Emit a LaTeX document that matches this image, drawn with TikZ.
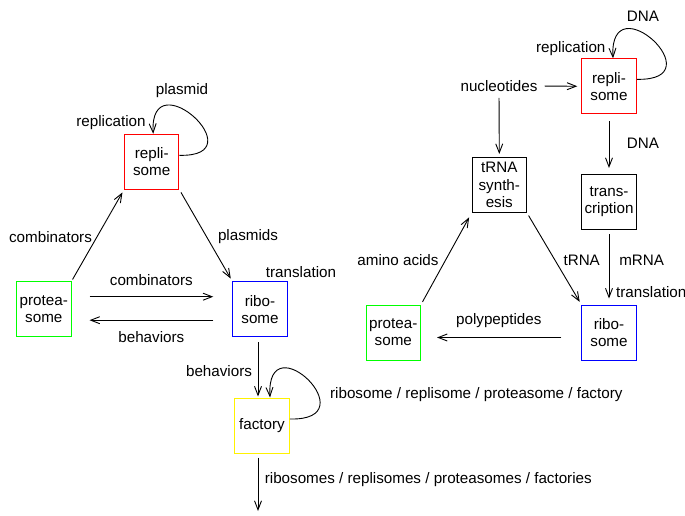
\documentclass[tikz,border=0pt]{standalone}
\usepackage{fontspec}
\setmainfont{Liberation Sans}
\usetikzlibrary{arrows.meta}
\begin{document}
\begin{tikzpicture}[x=1pt,y=1pt,
  box/.style={draw, line width=1pt, minimum width=54.5pt, minimum height=55pt, inner sep=0pt, align=center, font=\fontsize{15.2}{17.2}\selectfont},
  lbl/.style={inner sep=0pt, font=\fontsize{15.2}{17.2}\selectfont},
  arr/.style={line width=0.9pt, -{Straight Barb[length=9pt,width=7pt]}},
  selfloop/.style={arr}]
\useasboundingbox (0,0) rectangle (685,515);

% ---------- left diagram ----------
\node[box, draw=red] (rep1) at (151.7,353.2) {repli-\\some};
\node[box, draw=green] (prot1) at (43.8,205.8) {protea-\\some};
\node[box, draw=blue] (ribo1) at (260,205.8) {ribo-\\some};
\node[box, draw=yellow] (fact) at (262,89.5) {factory};
\coordinate (out1) at (258,4);

\draw[arr, shorten <=2pt, shorten >=3pt] (prot1.north east) -- (rep1.south west);
\draw[arr, shorten <=3pt, shorten >=3pt] (rep1.south east) -- (ribo1.north west);
\draw[arr, shorten <=18pt, shorten >=19pt] ([yshift=12.5pt]prot1.east) -- ([yshift=12.5pt]ribo1.west);
\draw[arr, shorten <=19pt, shorten >=18pt] ([yshift=-11pt]ribo1.west) -- ([yshift=-11pt]prot1.east);
\draw[arr, shorten <=5pt, shorten >=1pt] ([xshift=-2pt]ribo1.south) -- ([xshift=-4pt]fact.north);
\draw[arr, shorten <=4pt] ([xshift=-4pt]fact.south) -- (out1);

\draw[selfloop] ([yshift=6.5pt]rep1.east) .. controls +(78,-2) and +(-4,75) .. ([xshift=1.5pt]rep1.north);
\draw[selfloop] ([yshift=6.5pt]fact.east) .. controls +(80,-2) and +(-4,77) .. ([xshift=8pt]fact.north);

\node[lbl] (l1) at (182,424) {plasmid};
\node[lbl] (l2) at (111,392) {replication};
\node[lbl] (l3) at (50.5,278.3) {combinators};
\node[lbl] (l4) at (248,278.3) {plasmids};
\node[lbl] (l5) at (301,243) {translation};
\node[lbl] (l6) at (151.3,235) {combinators};
\node[lbl] (l7) at (151.3,178.3) {behaviors};
\node[lbl] (l8) at (219,144.3) {behaviors};
\node[lbl] (l9) at (476.3,120) {ribosome / replisome / proteasome / factory};
\node[lbl] (l10) at (428.3,35) {ribosomes / replisomes / proteasomes / factories};

% ---------- right diagram ----------
\node[box, draw=red] (rep2) at (609,428.7) {repli-\\some};
\node[lbl] (nucl) at (499,429) {nucleotides};
\node[box, draw=black] (trna) at (499.3,330) {tRNA\\synth-\\esis};
\node[box, draw=black] (trans) at (609,313) {trans-\\cription};
\node[box, draw=blue] (ribo2) at (609,182.5) {ribo-\\some};
\node[box, draw=green] (prot2) at (393.3,182.5) {protea-\\some};

\draw[arr, shorten <=7pt, shorten >=4pt] (nucl.east) -- (rep2.west);
\draw[arr, shorten <=6pt, shorten >=3pt] (nucl.south) -- (trna.north);
\draw[arr, shorten <=7pt, shorten >=6pt] (rep2.south) -- (trans.north);
\draw[arr, shorten <=4pt, shorten >=6pt] (trans.south) -- (ribo2.north);
\draw[arr, shorten <=3pt, shorten >=5pt] (prot2.north east) -- (trna.south west);
\draw[arr, shorten <=3pt, shorten >=3pt] (trna.south east) -- (ribo2.north west);
\draw[arr, shorten <=20pt, shorten >=16pt] ([yshift=-5pt]ribo2.west) -- ([yshift=-5pt]prot2.east);
\draw[selfloop] ([yshift=7pt]rep2.east) .. controls +(80,-2) and +(-4,77) .. ([xshift=4pt]rep2.north);

\node[lbl] (r1) at (643,498.3) {DNA};
\node[lbl] (r2) at (570.8,466.7) {replication};
\node[lbl] (r3) at (643,371.7) {DNA};
\node[lbl] (r4) at (398,255) {amino acids};
\node[lbl] (r5) at (581.7,255) {tRNA};
\node[lbl] (r6) at (641.7,255) {mRNA};
\node[lbl, anchor=west] (r7) at (616,222.7) {translation};
\node[lbl] (r8) at (498.8,194.3) {polypeptides};
\end{tikzpicture}
\end{document}
